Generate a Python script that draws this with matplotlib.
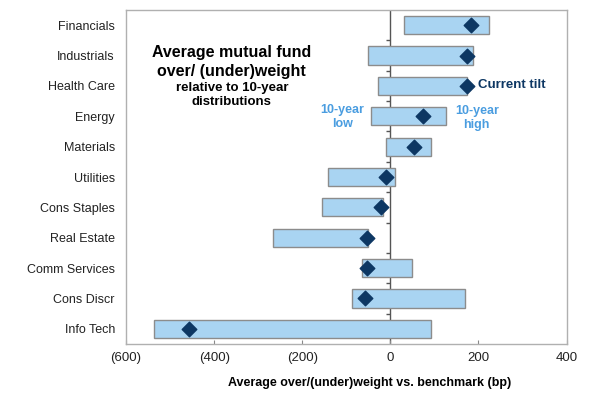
import numpy as np
import matplotlib.pyplot as plt

plt.rcParams['font.family'] = ['Liberation Sans', 'DejaVu Sans']

# sectors listed top to bottom
sectors = ["Financials", "Industrials", "Health Care", "Energy", "Materials",
           "Utilities", "Cons Staples", "Real Estate", "Comm Services",
           "Cons Discr", "Info Tech"]
low_10y = [30, -51, -28, -43, -11, -142, -156, -267, -65, -87, -537]
high_10y = [223, 188, 173, 127, 92, 10, -17, -51, 50, 170, 92]
current = [183, 174, 175, 75, 54, -11, -22, -52, -53, -57, -458]

xticks = [-600, -400, -200, 0, 200, 400]
xtick_labels = ["(600)", "(400)", "(200)", "0", "200", "400"]

BAR_COLOR = "#a9d4f2"
EDGE_COLOR = "#8c8c8c"
NAVY = "#0d3763"
LIGHT_BLUE = "#4a9de0"

fig = plt.figure(figsize=(6.06, 4.0), dpi=100)
ax = fig.add_axes([0.208, 0.14, 0.727, 0.835])

y = np.arange(len(sectors))
low = np.array(low_10y)
high = np.array(high_10y)
ax.barh(y, high - low, left=low, height=0.6, color=BAR_COLOR,
        edgecolor=EDGE_COLOR, linewidth=1.0, zorder=2)
ax.axvline(0, color="#555555", linewidth=1.0, zorder=1)
# little ticks on the zero line between sectors
ax.plot(np.zeros(len(sectors) - 1), y[:-1] + 0.5, marker=0, markersize=3,
        color="#555555", linestyle="none", zorder=1)
ax.scatter(current, y, marker="D", s=55, color=NAVY, zorder=3)

ax.set_ylim(len(sectors) - 0.5, -0.5)
ax.set_xlim(-600, 400)
ax.set_yticks(y)
ax.set_yticklabels(sectors, fontsize=9, color="#222222")
ax.set_xticks(xticks)
ax.set_xticklabels(xtick_labels, fontsize=9.5, color="#222222")
ax.tick_params(axis="y", length=0, pad=8)
ax.tick_params(axis="x", direction="in", length=3, color="#888888", pad=6)
for s in ax.spines.values():
    s.set_color("#b0b0b0")
    s.set_linewidth(1.0)

ax.set_xlabel("Average over/(under)weight vs. benchmark (bp)", fontsize=9,
              fontweight="bold")
ax.xaxis.set_label_coords(0.552, -0.098)

ax.text(-360, 1.21, "Average mutual fund\nover/ (under)weight", fontsize=11.5,
        fontweight="bold", ha="center", va="center", linespacing=1.3)
ax.text(-360, 2.3, "relative to 10-year\ndistributions", fontsize=9.5,
        fontweight="bold", ha="center", va="center", linespacing=1.3)
ax.text(199, 1.97, "Current tilt", fontsize=9.5, fontweight="bold", color=NAVY,
        ha="left", va="center")
ax.text(-109, 3.02, "10-year\nlow", fontsize=9, fontweight="bold",
        color=LIGHT_BLUE, ha="center", va="center", linespacing=1.2)
ax.text(196, 3.05, "10-year\nhigh", fontsize=9, fontweight="bold",
        color=LIGHT_BLUE, ha="center", va="center", linespacing=1.2)

fig.savefig("out.png", dpi=100)
